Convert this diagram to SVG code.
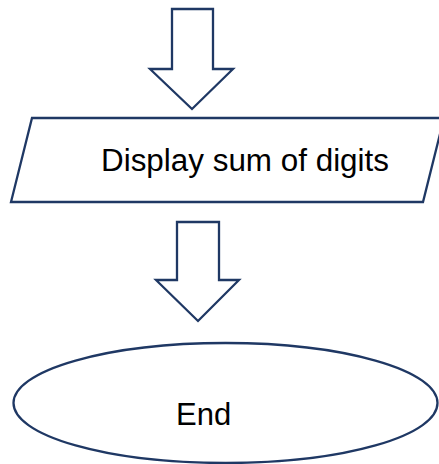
<svg xmlns="http://www.w3.org/2000/svg" width="439" height="464" viewBox="0 0 439 464">
<style>
.shape{fill:#fff;stroke:#1f3864;stroke-width:2.3;stroke-linejoin:miter}
.lbl{font-family:"Liberation Sans",Arial,sans-serif;font-size:31px;fill:#000}
</style>
<rect width="439" height="464" fill="#fff"/>
<g id="connectors">
<path class="shape" d="M172,9 H213 V69 H233 L192,109 L150,69 H172 Z"/>
<path class="shape" d="M177,222 H219 V280 H239 L198,321 L156,280 H177 Z"/>
</g>
<g id="display">
<path class="shape" d="M32,118 H444 L423,202 H11 Z"/>
<text class="lbl" x="101" y="171" textLength="288" lengthAdjust="spacingAndGlyphs">Display sum of digits</text>
</g>
<g id="end">
<ellipse class="shape" cx="225.5" cy="403" rx="212" ry="60"/>
<text class="lbl" x="176" y="425">End</text>
</g>
</svg>
